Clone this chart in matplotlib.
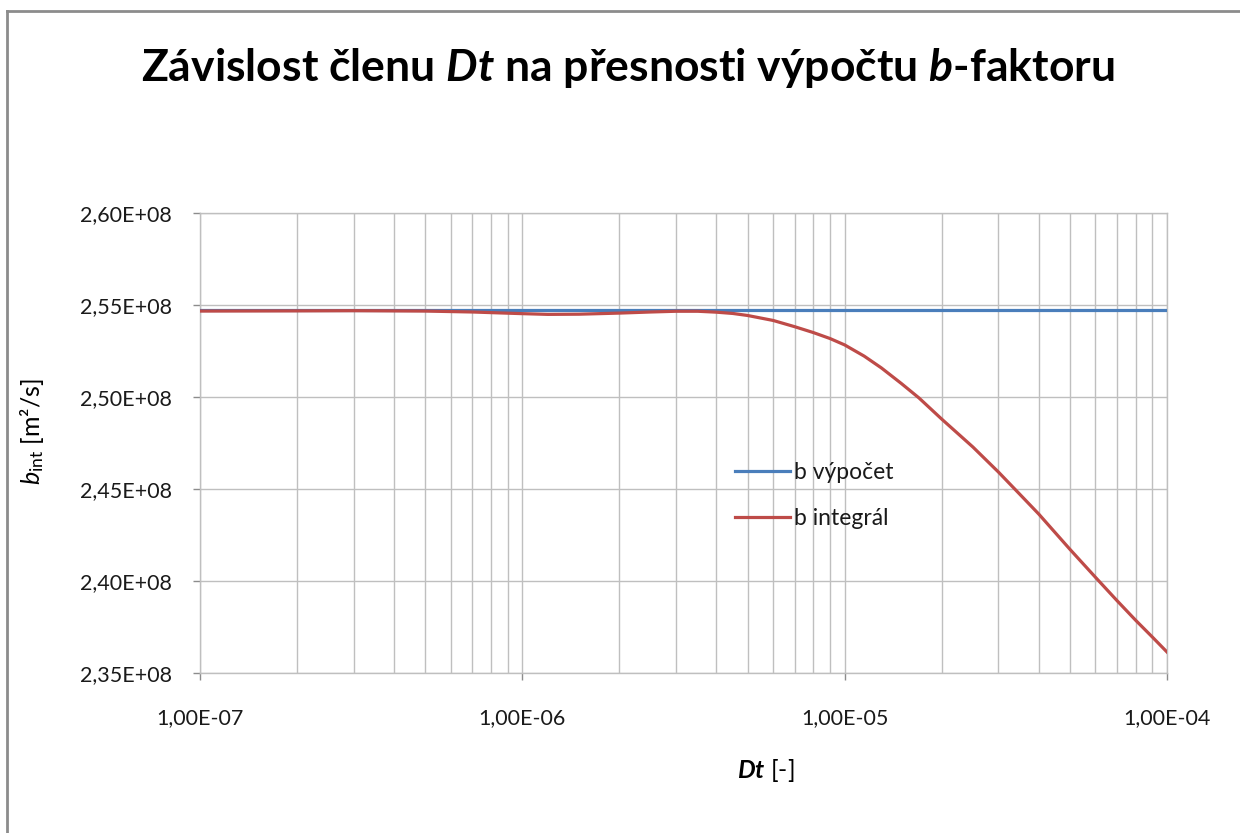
import numpy as np
import matplotlib.pyplot as plt
from matplotlib.lines import Line2D
from matplotlib.ticker import LogLocator, FixedLocator, NullFormatter

plt.rcParams['font.family'] = 'Lato'
plt.rcParams['mathtext.fontset'] = 'custom'
plt.rcParams['mathtext.rm'] = 'Lato'
plt.rcParams['mathtext.it'] = 'Lato:italic'
plt.rcParams['mathtext.bf'] = 'Lato:bold'
plt.rcParams['mathtext.bfit'] = 'Lato:italic:bold'

# data
dt_vypocet = [1e-7, 1e-4]
b_vypocet = [2.5473e8, 2.5473e8]

dt_integral = [1e-7, 2e-7, 3e-7, 5e-7, 7e-7, 8.5e-7, 1e-6, 1.2e-6, 1.5e-6,
               2e-6, 2.5e-6, 3e-6, 3.5e-6, 4e-6, 4.5e-6, 5e-6, 6e-6, 7e-6,
               8e-6, 9e-6, 1e-5, 1.15e-5, 1.3e-5, 1.5e-5, 1.7e-5, 2e-5,
               2.5e-5, 3e-5, 3.5e-5, 4e-5, 5e-5, 6e-5, 7e-5, 8e-5, 9e-5, 1e-4]
b_integral = [2.5467e8, 2.5468e8, 2.5469e8, 2.5467e8, 2.5462e8, 2.5457e8,
              2.5453e8, 2.5449e8, 2.5450e8, 2.5456e8, 2.5462e8, 2.5466e8,
              2.5466e8, 2.5461e8, 2.5454e8, 2.5443e8, 2.5416e8, 2.5382e8,
              2.5350e8, 2.5318e8, 2.5283e8, 2.5222e8, 2.5158e8, 2.5073e8,
              2.4995e8, 2.4880e8, 2.4728e8, 2.4592e8, 2.4470e8, 2.4364e8,
              2.4172e8, 2.4020e8, 2.3893e8, 2.3786e8, 2.3696e8, 2.3614e8]

y_ticks = [2.35e8, 2.40e8, 2.45e8, 2.50e8, 2.55e8, 2.60e8]
y_labels = ['2,35E+08', '2,40E+08', '2,45E+08', '2,50E+08', '2,55E+08', '2,60E+08']
x_ticks = [1e-7, 1e-6, 1e-5, 1e-4]
x_labels = ['1,00E-07', '1,00E-06', '1,00E-05', '1,00E-04']

W, H = 1240, 833
fig = plt.figure(figsize=(12.4, 8.33), dpi=100)
ax = fig.add_axes([200 / W, 1 - 673 / H, 967 / W, 460 / H])

grid_c = '#bfbfbf'
ax.plot(dt_vypocet, b_vypocet, color='#4a7ebb', lw=2.3, label='b výpočet', zorder=3)
ax.plot(dt_integral, b_integral, color='#be4b48', lw=2.3, label='b integrál', zorder=4,
        solid_joinstyle='round')

ax.set_xscale('log')
ax.set_xlim(1e-7, 1e-4)
ax.set_ylim(2.35e8, 2.60e8)

ax.xaxis.set_major_locator(FixedLocator(x_ticks))
ax.set_xticklabels(x_labels)
ax.xaxis.set_minor_locator(LogLocator(base=10, subs=np.arange(2, 10)))
ax.xaxis.set_minor_formatter(NullFormatter())
ax.set_yticks(y_ticks)
ax.set_yticklabels(y_labels)

ax.grid(True, which='both', axis='x', color=grid_c, lw=1.0)
ax.grid(True, which='major', axis='y', color=grid_c, lw=1.0)
for s in ax.spines.values():
    s.set_color(grid_c)
    s.set_linewidth(1.0)

ax.tick_params(axis='x', which='major', length=5, width=1, color='#8c8c8c',
               labelsize=15.5, pad=20, labelcolor='#1a1a1a')
ax.tick_params(axis='x', which='minor', length=0)
ax.tick_params(axis='y', which='major', length=5, width=1, color='#8c8c8c',
               labelsize=15.5, pad=15, labelcolor='#1a1a1a')

leg = ax.legend(loc='center left', bbox_to_anchor=(0.553, 0.386), frameon=False,
                fontsize=16.5, handlelength=2.4, handletextpad=0.2,
                labelspacing=1.1, borderpad=0, borderaxespad=0)
for t in leg.get_texts():
    t.set_color('#1a1a1a')

fig.text(628 / W, 1 - 68 / H,
         r'Závislost členu $\mathbfit{Dt}$ na přesnosti výpočtu $\mathbfit{b}$-faktoru',
         ha='center', va='center', fontsize=32, fontweight='bold', color='black')
fig.text(32 / W, 1 - 432 / H, r'$\mathit{b}_{\mathrm{int}}$ [m²/s]', rotation=90,
         ha='center', va='center', fontsize=18, color='black')
fig.text(766 / W, 1 - 771 / H, r'$\mathbfit{Dt}$ [-]',
         ha='center', va='center', fontsize=18, color='black')

# chart area border
fig.add_artist(Line2D([7 / W, 1], [1 - 11 / H, 1 - 11 / H], transform=fig.transFigure,
                      color='#8c8c8c', lw=2))
fig.add_artist(Line2D([7 / W, 7 / W], [0, 1 - 11 / H], transform=fig.transFigure,
                      color='#8c8c8c', lw=2))

fig.savefig('out.png', dpi=100)
